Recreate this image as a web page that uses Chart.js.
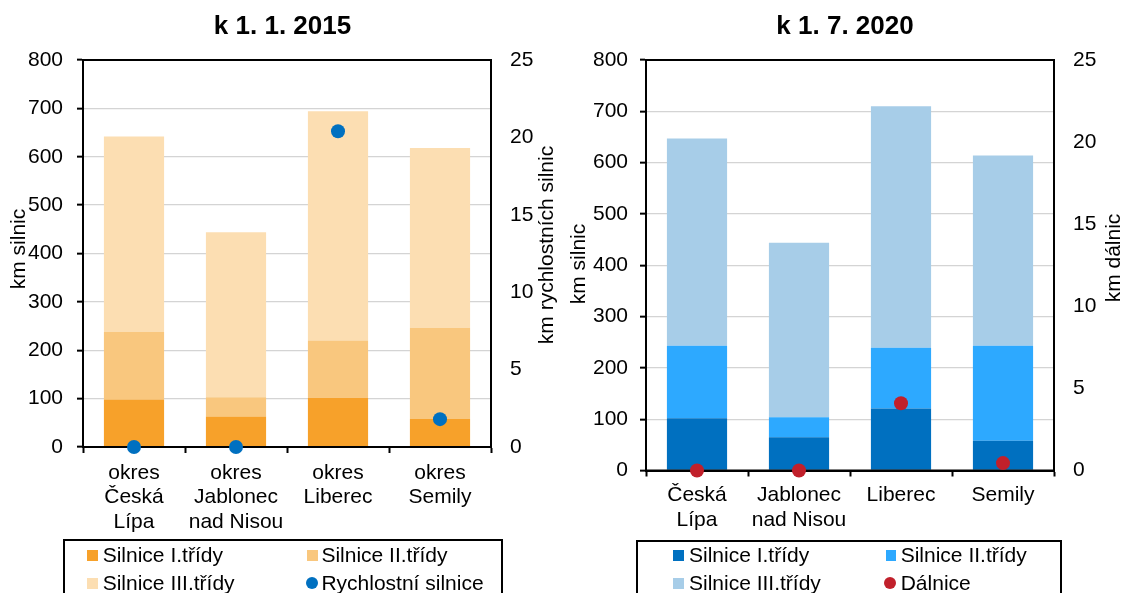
<!DOCTYPE html>
<html lang="cs">
<head>
<meta charset="utf-8" />
<title>Silnice v okresech</title>
<script src="https://cdn.jsdelivr.net/npm/chart.js@4.4.1/dist/chart.umd.min.js"></script>
<style>
    body { margin: 0; background: #fff; font-family: "Liberation Sans", Arial, sans-serif; }
    #page { position: relative; width: 1125px; height: 593px; overflow: hidden; }
    .wrap { position: absolute; top: 0; height: 593px; }
    .legend { position: absolute; border: 2px solid #000; box-sizing: border-box; height: 80px; }
    .item { position: absolute; font-size: 21px; line-height: 24px; height: 24px; white-space: nowrap; color: #000; }
    .sw { position: absolute; top: 6.5px; width: 10.5px; height: 11px; }
    .dot { position: absolute; top: 6px; width: 12px; height: 12px; border-radius: 50%; }
</style>
</head>
<body>
<div id="page">
    <div class="wrap" style="left:0;width:565px"><canvas id="c2015"></canvas></div>
    <div class="wrap" style="left:565px;width:560px"><canvas id="c2020"></canvas></div>
</div>
<script>
// data
var okresy2015 = [["okres", "Česká", "Lípa"], ["okres", "Jablonec", "nad Nisou"], ["okres", "Liberec"], ["okres", "Semily"]];
var okresy2020 = [["Česká", "Lípa"], ["Jablonec", "nad Nisou"], "Liberec", "Semily"];

var silniceI_2015 = [98, 63, 102, 58];
var silniceII_2015 = [140, 40, 118, 188];
var silniceIII_2015 = [404, 341, 474, 372];
var rychlostni_2015 = [0, 0, 20.4, 1.8];

var silniceI_2020 = [102, 65, 121, 58];
var silniceII_2020 = [141, 39, 118, 185];
var silniceIII_2020 = [404, 340, 471, 371];
var dalnice_2020 = [0, 0, 4.1, 0.45];

var leftTicks = { min: 0, max: 800, step: 100 };
var rightTicks = { min: 0, max: 25, step: 5 };

Chart.defaults.font.family = '"Liberation Sans", Arial, sans-serif';
Chart.defaults.font.size = 21;
Chart.defaults.color = '#000';

// plot frame + rotated axis titles
var framePlugin = {
    id: 'frame',
    beforeDatasetDraw: function(chart, args) {
        if (args.meta.type !== 'line') return;
        var a = chart.chartArea, ctx = chart.ctx;
        ctx.save();
        ctx.strokeStyle = '#000';
        ctx.lineWidth = 2;
        ctx.strokeRect(a.left, a.top, a.right - a.left, a.bottom - a.top);
        ctx.restore();
    },
    afterDraw: function(chart, args, opts) {
        var ctx = chart.ctx;
        ctx.save();
        ctx.font = '21px "Liberation Sans", Arial, sans-serif';
        ctx.fillStyle = '#000';
        ctx.textAlign = 'center';
        ctx.textBaseline = 'middle';
        opts.titles.forEach(function(t) {
            ctx.save();
            ctx.translate(t.x, t.y);
            ctx.rotate(-Math.PI / 2);
            ctx.fillText(t.text, 0, 0);
            ctx.restore();
        });
        ctx.restore();
    }
};

function makeChart(id, cfg) {
    var H = 593;
    return new Chart(document.getElementById(id), {
        type: 'bar',
        data: {
            labels: cfg.labels,
            datasets: [
                { type: 'line', label: cfg.dotLabel, data: cfg.dots, yAxisID: 'y1', showLine: false,
                  pointRadius: 7, pointHoverRadius: 7, pointBorderWidth: 0,
                  pointBackgroundColor: cfg.colors[3], borderColor: cfg.colors[3], clip: false, order: 0 },
                { label: 'Silnice I.třídy', data: cfg.s1, backgroundColor: cfg.colors[0], order: 1 },
                { label: 'Silnice II.třídy', data: cfg.s2, backgroundColor: cfg.colors[1], order: 1 },
                { label: 'Silnice III.třídy', data: cfg.s3, backgroundColor: cfg.colors[2], order: 1 }
            ]
        },
        options: {
            responsive: true,
            maintainAspectRatio: false,
            animation: false,
            datasets: { bar: { barPercentage: 0.59, categoryPercentage: 1 } },
            layout: { padding: 0 },
            plugins: {
                legend: { display: false },
                tooltip: { enabled: false },
                title: { display: true, text: cfg.title, font: { size: 26, weight: 'bold', lineHeight: 1.2 },
                         padding: { top: 11.5, bottom: 17.3 }, color: '#000' },
                frame: { titles: cfg.axisTitles }
            },
            scales: {
                x: {
                    stacked: true,
                    grid: { drawOnChartArea: false, drawTicks: true, tickLength: 6, tickColor: '#000', tickWidth: 2 },
                    border: { display: true, color: '#000', width: 2 },
                    ticks: { maxRotation: 0, autoSkip: false, padding: cfg.xPad, font: { size: 21, lineHeight: 1.16 } },
                    afterFit: function(s) { s.height = H - cfg.bottom; }
                },
                y: {
                    stacked: true,
                    min: leftTicks.min, max: leftTicks.max,
                    ticks: { stepSize: leftTicks.step, padding: cfg.yPad },
                    grid: { color: '#D4D4D4', lineWidth: 1.3, tickLength: 6, tickColor: '#000', tickWidth: 2 },
                    border: { display: true, color: '#000', width: 2 },
                    afterFit: function(s) { s.width = cfg.left; }
                },
                y1: {
                    position: 'right',
                    min: rightTicks.min, max: rightTicks.max,
                    ticks: { stepSize: rightTicks.step, padding: 19 },
                    grid: { display: false, drawTicks: false },
                    border: { display: true, color: '#000', width: 2 },
                    afterFit: function(s) { s.width = cfg.width - cfg.right; }
                }
            }
        },
        plugins: [framePlugin]
    });
}

makeChart('c2015', {
    title: 'k 1. 1. 2015',
    labels: okresy2015,
    s1: silniceI_2015, s2: silniceII_2015, s3: silniceIII_2015,
    dots: rychlostni_2015, dotLabel: 'Rychlostní silnice',
    colors: ['#F7A12A', '#F9C77E', '#FCDEB2', '#0070C0'],
    width: 565, left: 83, right: 491, bottom: 447, xPad: 8, yPad: 14,
    axisTitles: [{ text: 'km silnic', x: 19.5, y: 249 }, { text: 'km rychlostních silnic', x: 547, y: 245 }]
});

makeChart('c2020', {
    title: 'k 1. 7. 2020',
    labels: okresy2020,
    s1: silniceI_2020, s2: silniceII_2020, s3: silniceIII_2020,
    dots: dalnice_2020, dotLabel: 'Dálnice',
    colors: ['#0070C0', '#2DA9FF', '#A7CDE8', '#C1202B'],
    width: 560, left: 81, right: 489, bottom: 470.5, xPad: 7, yPad: 12,
    axisTitles: [{ text: 'km silnic', x: 14.5, y: 264 }, { text: 'km dálnic', x: 549, y: 258 }]
});

// legends below the charts
function makeLegend(box, items) {
    var page = document.getElementById('page');
    var lg = document.createElement('div');
    lg.className = 'legend';
    lg.style.left = box.left + 'px';
    lg.style.top = box.top + 'px';
    lg.style.width = box.width + 'px';
    page.appendChild(lg);
    items.forEach(function(it) {
        var d = document.createElement('div');
        d.className = 'item';
        d.style.left = it.x + 'px';
        d.style.top = (it.y - 12) + 'px';
        d.style.paddingLeft = it.textX - it.x + 'px';
        var m = document.createElement('span');
        m.className = it.dot ? 'dot' : 'sw';
        m.style.left = '0px';
        m.style.background = it.color;
        d.appendChild(m);
        d.appendChild(document.createTextNode(it.text));
        page.appendChild(d);
    });
}

makeLegend({ left: 62.5, top: 539, width: 440 }, [
    { text: 'Silnice I.třídy', color: '#F7A12A', x: 87, textX: 102.7, y: 555 },
    { text: 'Silnice II.třídy', color: '#F9C77E', x: 307, textX: 321.4, y: 555 },
    { text: 'Silnice III.třídy', color: '#FCDEB2', x: 87, textX: 102.7, y: 583 },
    { text: 'Rychlostní silnice', color: '#0070C0', x: 305.8, textX: 321.4, y: 583, dot: true }
]);

makeLegend({ left: 636, top: 540, width: 426 }, [
    { text: 'Silnice I.třídy', color: '#0070C0', x: 673.3, textX: 689, y: 555 },
    { text: 'Silnice II.třídy', color: '#2DA9FF', x: 885.7, textX: 900.7, y: 555 },
    { text: 'Silnice III.třídy', color: '#A7CDE8', x: 673.3, textX: 689, y: 583 },
    { text: 'Dálnice', color: '#C1202B', x: 884, textX: 900.7, y: 583, dot: true }
]);
</script>
</body>
</html>
